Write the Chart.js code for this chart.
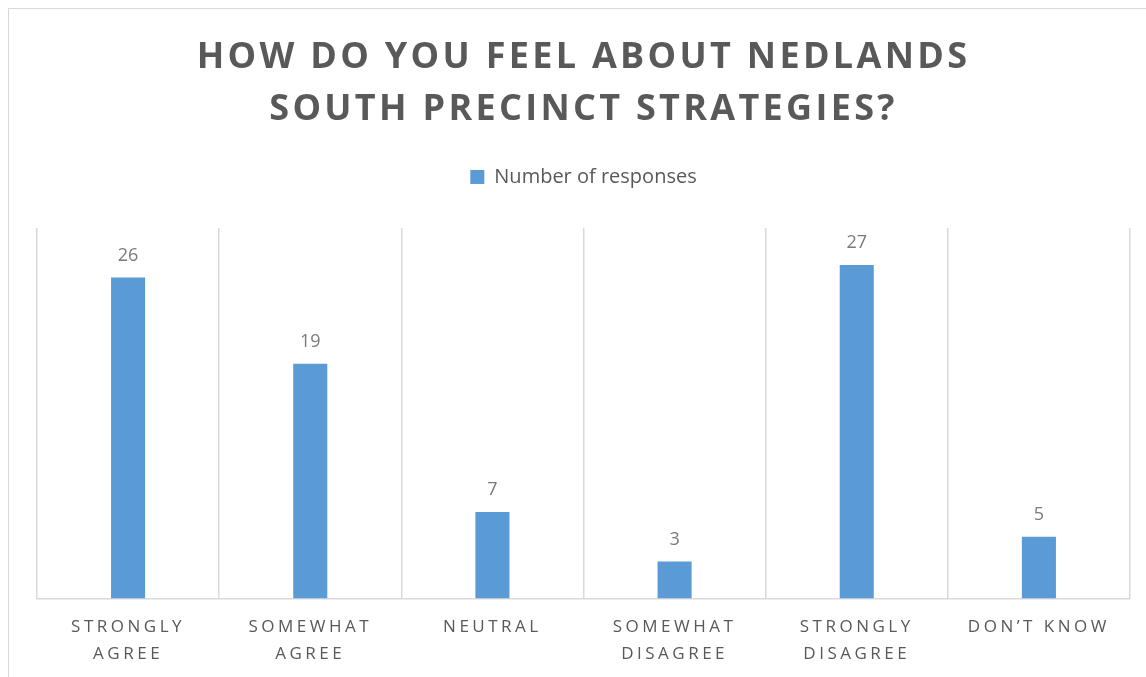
<!DOCTYPE html>
<html>
<head>
<meta charset="utf-8">
<script src="https://cdn.jsdelivr.net/npm/chart.js@4.4.1/dist/chart.umd.min.js"></script>
<style>
  html, body { margin: 0; padding: 0; background: #ffffff; }
  #wrap { position: relative; width: 1146px; height: 677px; overflow: hidden; }
  #frame { position: absolute; left: 8px; top: 8px; width: 1200px; height: 700px; border-left: 1.5px solid #d9d9d9; border-top: 1.5px solid #d9d9d9; box-sizing: border-box; }
  canvas { position: absolute; left: 0; top: 0; }
</style>
</head>
<body>
<div id="wrap">
  <div id="frame"></div>
  <canvas id="c" width="1146" height="683"></canvas>
</div>
<script>
const titleLines = ['HOW DO YOU FEEL ABOUT NEDLANDS', 'SOUTH PRECINCT STRATEGIES?'];
const categories = [['STRONGLY', 'AGREE'], ['SOMEWHAT', 'AGREE'], ['NEUTRAL'], ['SOMEWHAT', 'DISAGREE'], ['STRONGLY', 'DISAGREE'], ['DON\u2019T KNOW']];
const seriesName = 'Number of responses';
const responses = [26, 19, 7, 3, 27, 5];
const axisMin = 0;
const axisMax = 30;

// letter spacing per font size (title and category labels are tracked out)
const SPACING = { '36': '3.3px', '17': '3.5px' };
const proto = CanvasRenderingContext2D.prototype;
const origFill = proto.fillText, origMeasure = proto.measureText;
function applySpacing(c) {
  const m = /(\d+(?:\.\d+)?)px/.exec(c.font);
  c.letterSpacing = (m && SPACING[m[1]]) || '0px';
}
proto.fillText = function (t, x, y, w) {
  applySpacing(this);
  return (w === undefined) ? origFill.call(this, t, x, y) : origFill.call(this, t, x, y, w);
};
proto.measureText = function (t) { applySpacing(this); return origMeasure.call(this, t); };

const valueLabels = {
  id: 'valueLabels',
  afterDatasetsDraw(chart) {
    const ctx = chart.ctx;
    const meta = chart.getDatasetMeta(0);
    ctx.save();
    ctx.font = "18px 'Open Sans'";
    ctx.fillStyle = '#7a7a7a';
    ctx.textAlign = 'center';
    ctx.textBaseline = 'middle';
    meta.data.forEach((bar, i) => {
      ctx.fillText(String(chart.data.datasets[0].data[i]), bar.x, bar.y - 22);
    });
    ctx.restore();
  }
};

new Chart(document.getElementById('c'), {
  type: 'bar',
  data: {
    labels: categories,
    datasets: [{
      label: seriesName,
      data: responses,
      backgroundColor: '#5b9bd5',
      borderWidth: 0,
      barPercentage: 0.187,
      categoryPercentage: 1.0
    }]
  },
  options: {
    responsive: false,
    animation: false,
    layout: { padding: { left: 37, right: 16, top: 0, bottom: 0 } },
    plugins: {
      title: {
        display: true,
        text: titleLines,
        color: '#595959',
        font: { family: "'Open Sans'", size: 36, weight: 'bold', lineHeight: 1.444 },
        padding: { top: 32, bottom: 21 }
      },
      subtitle: {
        display: true,
        text: '',
        weight: 500,
        font: { size: 1, lineHeight: 1 },
        padding: { top: 30, bottom: 0 }
      },
      legend: {
        display: true,
        position: 'top',
        labels: {
          color: '#595959',
          font: { family: "'Open Sans'", size: 20 },
          boxWidth: 14,
          boxHeight: 14,
          padding: 10
        }
      },
      tooltip: { enabled: false }
    },
    scales: {
      x: {
        grid: { display: true, offset: true, color: '#d9d9d9', lineWidth: 1.5, drawTicks: false },
        border: { display: true, color: '#d9d9d9', width: 1.5 },
        ticks: {
          color: '#595959',
          font: { family: "'Open Sans'", size: 17, lineHeight: 1.6 },
          padding: 15,
          maxRotation: 0,
          autoSkip: false
        }
      },
      y: {
        display: false,
        min: axisMin,
        max: axisMax
      }
    }
  },
  plugins: [valueLabels]
});
</script>
</body>
</html>
